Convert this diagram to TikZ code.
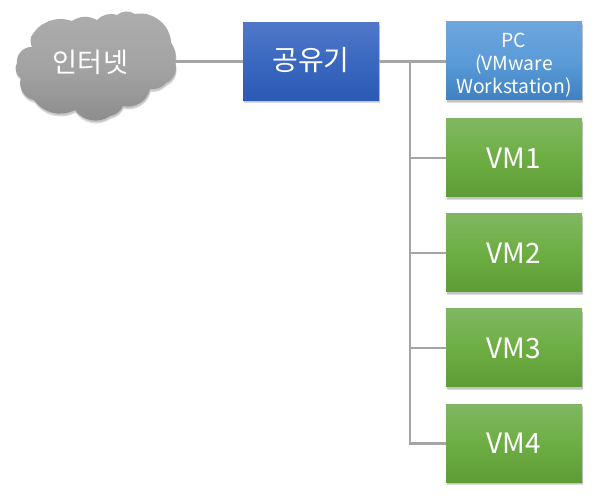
\documentclass[tikz,border=0pt]{standalone}
\usepackage{fontspec}
\setmainfont{Noto Sans CJK KR}
\definecolor{linegray}{HTML}{A5A5A5}
\definecolor{RouterTop}{HTML}{5078C8}
\definecolor{RouterMid}{HTML}{3A68C0}
\definecolor{RouterBot}{HTML}{2D5AB4}
\definecolor{PcTop}{HTML}{6EA6DF}
\definecolor{PcMid}{HTML}{5A9BD8}
\definecolor{PcBot}{HTML}{3F80C2}
\definecolor{VmTop}{HTML}{80B762}
\definecolor{VmMid}{HTML}{6DAE43}
\definecolor{VmBot}{HTML}{5E9C36}
\definecolor{CloudTop}{HTML}{ADADAD}
\definecolor{CloudMid}{HTML}{A3A3A3}
\definecolor{CloudBot}{HTML}{8C8C8C}
\tikzset{
  softshadow/.style={preaction={draw=none,fill=black,opacity=.10,transform canvas={xshift=.5pt,yshift=-1.2pt}},
                     preaction={draw=none,fill=black,opacity=.14,transform canvas={xshift=.4pt,yshift=-2.2pt}}},
  boxbase/.style={minimum width=102pt,minimum height=58.5pt,inner sep=0pt,text=white,align=center,
     font=\fontsize{21pt}{25pt}\selectfont,softshadow},
  routerbox/.style={boxbase,top color=RouterTop,bottom color=RouterBot,middle color=RouterMid},
  pcbox/.style={boxbase,top color=PcTop,bottom color=PcBot,middle color=PcMid,font=\fontsize{14.5pt}{17.4pt}\selectfont},
  vmbox/.style={boxbase,top color=VmTop,bottom color=VmBot,middle color=VmMid},
  link/.style={draw=linegray,line width=1.9pt},
  cloudtext/.style={text=white,inner sep=0pt,font=\fontsize{20.4pt}{24pt}\selectfont}
}
\begin{document}
\begin{tikzpicture}[x=0.75pt,y=-0.75pt]
\useasboundingbox[fill=white] (0,0) rectangle (594,498);
\coordinate (trunktop) at (410,61.5);
\coordinate (cloudedge) at (174,61.5);
\path[softshadow,top color=CloudTop,bottom color=CloudBot,middle color=CloudMid]
  (17,63) to[bend left=50] (32,47) to[bend left=15] (31,37)
  to[bend left=40] (72,21) to[bend left=30] (97,20)
  to[bend left=30] (117,15) to[bend left=35] (135,14)
  to[bend left=50] (171,43) to[bend left=25] (175,62)
  to[bend left=42] (166,83) to[bend left=25] (150,89)
  to[bend left=45] (123,106) to[bend left=25] (110,116)
  to[bend left=45] (75,110) to[bend left=40] (34,100)
  to[bend left=50] (21,78) to[bend left=45] (17,63) -- cycle;
\node[cloudtext] (inet) at (90.5,62) {인터넷};
\node[routerbox,text height=14pt,text depth=0pt] (router) at (311,61.5) {공유기};
\node[pcbox] (pc) at (514,61) {\rule{0pt}{17pt}PC\\(VMware\\Workstation)};
\node[vmbox] (vm1) at (514,158) {VM1};
\node[vmbox] (vm2) at (514,253) {VM2};
\node[vmbox] (vm3) at (514,348) {VM3};
\node[vmbox] (vm4) at (514,443.5) {VM4};
\coordinate (j1) at (trunktop |- vm1.west);
\coordinate (j2) at (trunktop |- vm2.west);
\coordinate (j3) at (trunktop |- vm3.west);
\coordinate (j4) at (trunktop |- vm4.west);
\draw[link] (cloudedge) -- (router.west);
\draw[link] (router.east) -- (trunktop -| pc.west);
\draw[link] (trunktop) -- (j4) -- (vm4.west);
\draw[link] (j1) -- (vm1.west);
\draw[link] (j2) -- (vm2.west);
\draw[link] (j3) -- (vm3.west);
\end{tikzpicture}
\end{document}
